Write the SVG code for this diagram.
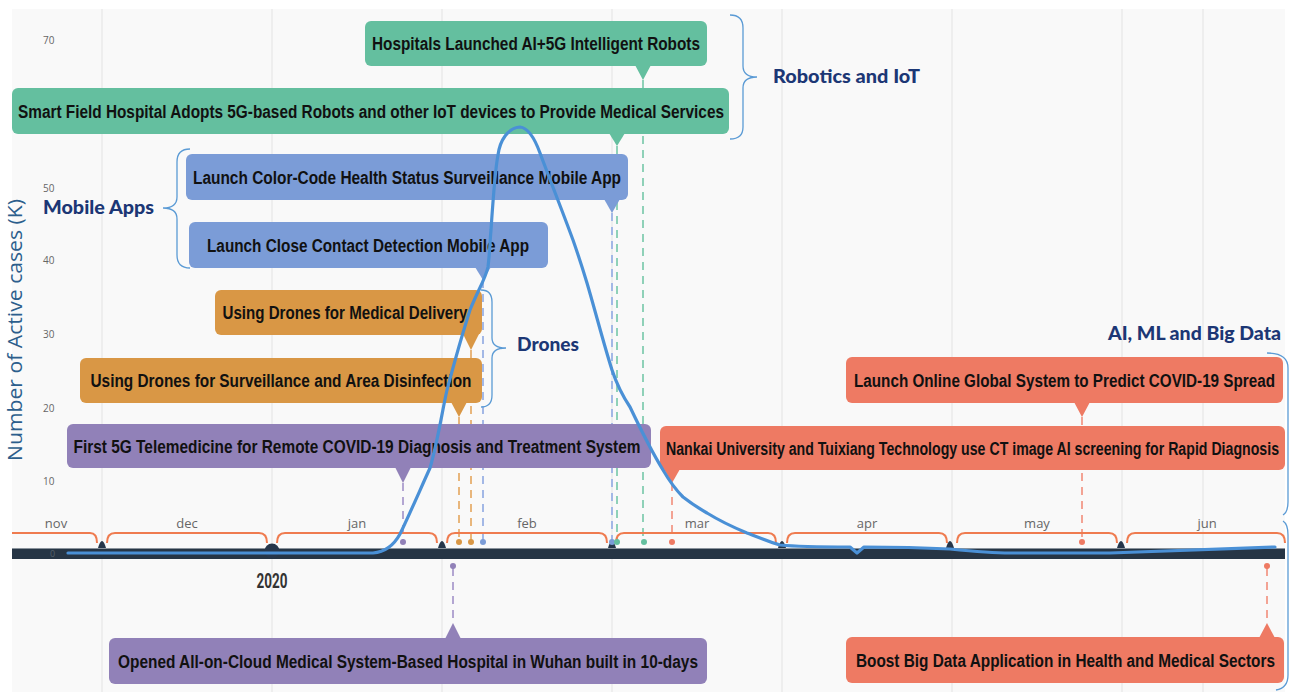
<svg xmlns="http://www.w3.org/2000/svg" width="1290" height="692" viewBox="0 0 1290 692">
<style>
.bt{font-family:"Liberation Sans",Arial,sans-serif;font-weight:bold;font-size:18px;fill:#111;text-anchor:middle}
.bs{text-anchor:start}
.be{text-anchor:end}
.cat{font-family:Lato,"Open Sans",sans-serif;font-weight:900;font-size:19px;fill:#1c3775}
.tick{font-family:"Open Sans",sans-serif;font-size:10px;fill:#666}
.mon{font-family:"Open Sans",sans-serif;font-size:13px;fill:#666;text-anchor:middle}
.grid{stroke:#e6e6e6;stroke-width:1.2}
.brk{fill:none;stroke:#ef7b4f;stroke-width:2}
.brace{fill:none;stroke:#5b9bd5;stroke-width:1.3}
.dash{stroke-width:2;stroke-dasharray:8 6;fill:none}
.g{fill:#64bf9f}.b{fill:#7b9cd7}.o{fill:#d99745}.p{fill:#9181b8}.r{fill:#ee7a63}
.mk{fill:#26364a}
</style>
<rect x="0" y="0" width="1290" height="692" fill="#ffffff"/>
<rect x="12" y="9" width="1273" height="683" fill="#f9f9f9"/>
<g id="grid">
<line class="grid" x1="102" y1="9" x2="102" y2="692"/>
<line class="grid" x1="272" y1="9" x2="272" y2="692"/>
<line class="grid" x1="442" y1="9" x2="442" y2="692"/>
<line class="grid" x1="612" y1="9" x2="612" y2="692"/>
<line class="grid" x1="782" y1="9" x2="782" y2="692"/>
<line class="grid" x1="952" y1="9" x2="952" y2="692"/>
<line class="grid" x1="1122" y1="9" x2="1122" y2="692"/>
<line class="grid" x1="1203" y1="9" x2="1203" y2="692"/>
</g>
<g id="yaxis">
<text class="tick" x="43" y="44">70</text>
<text class="tick" x="43" y="192">50</text>
<text class="tick" x="43" y="264">40</text>
<text class="tick" x="43" y="338">30</text>
<text class="tick" x="43" y="412">20</text>
<text class="tick" x="43" y="485">10</text>
<text x="22" y="330" transform="rotate(-90 22 330)" font-family="'Open Sans',sans-serif" font-size="20" fill="#2c5e8c" text-anchor="middle" textLength="262" lengthAdjust="spacingAndGlyphs">Number of Active cases (K)</text>
</g>
<g id="connectors">
<line class="dash" stroke="#8fd1b8" x1="643" y1="80" x2="643" y2="540"/>
<line class="dash" stroke="#8fd1b8" x1="617" y1="146" x2="617" y2="540"/>
<line class="dash" stroke="#a3b8e6" x1="612" y1="213" x2="612" y2="540"/>
<line class="dash" stroke="#a3b8e6" x1="483" y1="280" x2="483" y2="540"/>
<line class="dash" stroke="#e8b67c" x1="471" y1="350" x2="471" y2="540"/>
<line class="dash" stroke="#e8b67c" x1="459" y1="417" x2="459" y2="540"/>
<line class="dash" stroke="#b3a6d2" x1="403" y1="483" x2="403" y2="540"/>
<line class="dash" stroke="#f3a394" x1="672" y1="483" x2="672" y2="540"/>
<line class="dash" stroke="#f3a394" x1="1082" y1="417" x2="1082" y2="540"/>
<line class="dash" stroke="#b3a6d2" x1="453" y1="568" x2="453" y2="623"/>
<line class="dash" stroke="#f3a394" x1="1267" y1="568" x2="1267" y2="623"/>
</g>
<g id="months">
<path class="brk" d="M12,533 L90,533 Q97,533 97,543"/>
<path class="brk" d="M107,543 Q107,533 115,533 L259,533 Q267,533 267,543"/>
<path class="brk" d="M277,543 Q277,533 285,533 L429,533 Q437,533 437,543"/>
<path class="brk" d="M447,543 Q447,533 455,533 L599,533 Q607,533 607,543"/>
<path class="brk" d="M616,543 Q616,533 624,533 L768,533 Q776,533 776,543"/>
<path class="brk" d="M787,543 Q787,533 795,533 L939,533 Q947,533 947,543"/>
<path class="brk" d="M957,543 Q957,533 965,533 L1109,533 Q1117,533 1117,543"/>
<path class="brk" d="M1127,543 Q1127,533 1135,533 L1277,533 Q1285,533 1285,543"/>
<text class="mon" x="56" y="528">nov</text>
<text class="mon" x="187" y="528">dec</text>
<text class="mon" x="357" y="528">jan</text>
<text class="mon" x="527" y="528">feb</text>
<text class="mon" x="697" y="528">mar</text>
<text class="mon" x="867" y="528">apr</text>
<text class="mon" x="1037" y="528">may</text>
<text class="mon" x="1207" y="528">jun</text>
</g>
<g id="axis">
<rect x="12" y="548" width="1273" height="11" fill="#263545"/>
<line x1="12" y1="548.5" x2="1285" y2="548.5" stroke="#8a939c" stroke-width="1"/>
<text x="50" y="557" font-family="'Open Sans',sans-serif" font-size="9" fill="#55606b">0</text>
<path class="mk" d="M98,548 Q100,541 102,541 Q104,541 106,548 Z"/>
<path class="mk" d="M438,548 Q440,541 442,541 Q444,541 446,548 Z"/>
<path class="mk" d="M608,548 Q610,541 612,541 Q614,541 616,548 Z"/>
<path class="mk" d="M778,548 Q780,541 782,541 Q784,541 786,548 Z"/>
<path class="mk" d="M946,548 Q948,541 950,541 Q952,541 954,548 Z"/>
<path class="mk" d="M1117,548 Q1119,541 1121,541 Q1123,541 1125,548 Z"/>
<circle class="mk" cx="272" cy="551" r="7.5"/>
<text x="272" y="588" font-family="Roboto,'Liberation Sans',sans-serif" font-weight="bold" font-size="20" fill="#333" text-anchor="middle" textLength="31" lengthAdjust="spacingAndGlyphs">2020</text>
<circle cx="403" cy="542" r="3" fill="#9181b8"/>
<circle cx="459" cy="542" r="3" fill="#d99745"/>
<circle cx="471" cy="542" r="3" fill="#d99745"/>
<circle cx="483" cy="542" r="3" fill="#7b9cd7"/>
<circle cx="612" cy="542" r="3" fill="#7b9cd7"/>
<circle cx="617" cy="542" r="3" fill="#64bf9f"/>
<circle cx="644" cy="542" r="3" fill="#64bf9f"/>
<circle cx="672" cy="542" r="3" fill="#ee7a63"/>
<circle cx="1082" cy="542" r="3" fill="#ee7a63"/>
<circle cx="453" cy="566" r="3" fill="#9181b8"/>
<circle cx="1267" cy="566" r="3" fill="#ee7a63"/>
</g>
<g id="n1">
<rect class="g" x="365" y="21" width="342" height="45" rx="6"/>
<path class="g" d="M635,65 L651,65 L643,80 Z"/>
<text class="bt" x="536" y="50" textLength="328" lengthAdjust="spacingAndGlyphs">Hospitals Launched AI+5G Intelligent Robots</text>
</g>
<g id="n2">
<rect class="g" x="12" y="88" width="717" height="46" rx="6"/>
<path class="g" d="M609,133 L625,133 L617,146 Z"/>
<text class="bt bs" x="18" y="117.5" textLength="706" lengthAdjust="spacingAndGlyphs">Smart Field Hospital Adopts 5G-based Robots and other IoT devices to Provide Medical Services</text>
</g>
<g id="n3">
<rect class="b" x="186" y="154" width="442" height="46" rx="6"/>
<path class="b" d="M604,199 L620,199 L612,213 Z"/>
<text class="bt" x="407" y="183.5" textLength="428" lengthAdjust="spacingAndGlyphs">Launch Color-Code Health Status Surveillance Mobile App</text>
</g>
<g id="n4">
<rect class="b" x="189" y="222" width="359" height="46" rx="6"/>
<path class="b" d="M475,267 L491,267 L483,280 Z"/>
<text class="bt" x="368" y="251.5" textLength="322" lengthAdjust="spacingAndGlyphs">Launch Close Contact Detection Mobile App</text>
</g>
<g id="n5">
<rect class="o" x="215" y="290" width="267" height="45" rx="6"/>
<path class="o" d="M463,334 L479,334 L471,350 Z"/>
<text class="bt" x="345" y="319" textLength="245" lengthAdjust="spacingAndGlyphs">Using Drones for Medical Delivery</text>
</g>
<g id="n6">
<rect class="o" x="80" y="358" width="402" height="45" rx="6"/>
<path class="o" d="M451,402 L467,402 L459,417 Z"/>
<text class="bt" x="281" y="387" textLength="381" lengthAdjust="spacingAndGlyphs">Using Drones for Surveillance and Area Disinfection</text>
</g>
<g id="n7">
<rect class="p" x="67" y="424" width="584" height="44" rx="6"/>
<path class="p" d="M395,467 L411,467 L403,483 Z"/>
<text class="bt" x="357" y="452.5" textLength="567" lengthAdjust="spacingAndGlyphs">First 5G Telemedicine for Remote COVID-19 Diagnosis and Treatment System</text>
</g>
<g id="n8">
<rect class="p" x="109" y="638" width="598" height="46" rx="6"/>
<path class="p" d="M445,639 L461,639 L453,623 Z"/>
<text class="bt" x="408" y="667.5" textLength="580" lengthAdjust="spacingAndGlyphs">Opened All-on-Cloud Medical System-Based Hospital in Wuhan built in 10-days</text>
</g>
<g id="n9">
<rect class="r" x="846" y="357" width="437" height="46" rx="6"/>
<path class="r" d="M1074,402 L1090,402 L1082,417 Z"/>
<text class="bt be" x="1275" y="386.5" textLength="421" lengthAdjust="spacingAndGlyphs">Launch Online Global System to Predict COVID-19 Spread</text>
</g>
<g id="n10">
<rect class="r" x="660" y="426" width="625" height="44" rx="6"/>
<path class="r" d="M664,469 L680,469 L672,483 Z"/>
<text class="bt be" x="1279" y="454.5" textLength="613" lengthAdjust="spacingAndGlyphs">Nankai University and Tuixiang Technology use CT image AI screening for Rapid Diagnosis</text>
</g>
<g id="n11">
<rect class="r" x="846" y="637" width="438" height="46" rx="6"/>
<path class="r" d="M1259,638 L1275,638 L1267,623 Z"/>
<text class="bt be" x="1275" y="666.5" textLength="419" lengthAdjust="spacingAndGlyphs">Boost Big Data Application in Health and Medical Sectors</text>
</g>
<g id="curve">
<path d="M68,553 L373,553 C385,552 394,545 400,534 C407,520 420,490 430,468 C438,440 442,412 447,390 C455,360 462,335 470,310 C478,290 485,280 488,267 C490,250 490,240 491,230 C493,200 495,170 498,155 C500,140 508,128 520,127 C530,128 536,142 540,153 C550,180 562,210 573,240 C580,260 584,273 587,283 C595,310 604,345 612,370 C618,388 624,398 630,407 C640,428 652,452 663,470 C670,482 676,490 683,497 C692,504 700,509 707,513 C720,521 735,528 747,533 C760,538 770,542 780,545 C800,547 830,547 850,547 L857,553 L864,547 C890,547 930,548 950,549 C970,551 990,553 1010,553 L1110,553 C1150,552 1200,550 1275,547" fill="none" stroke="#4a90d6" stroke-width="3.2" stroke-linejoin="round" stroke-linecap="round"/>
</g>
<g id="cat-robotics">
<path class="brace" d="M730,15 Q743,15 743,28 L743,66 Q743,77 757,77 Q743,77 743,88 L743,127 Q743,139 730,139"/>
<text class="cat" x="773" y="83" textLength="147" lengthAdjust="spacingAndGlyphs">Robotics and IoT</text>
</g>
<g id="cat-mobile">
<path class="brace" d="M190,149 Q177,149 177,162 L177,197 Q177,208 163,208 Q177,208 177,219 L177,255 Q177,268 190,268"/>
<text class="cat" x="43" y="214" textLength="111" lengthAdjust="spacingAndGlyphs">Mobile Apps</text>
</g>
<g id="cat-drones">
<path class="brace" d="M481,290 Q492,290 492,302 L492,338 Q492,348 506,348 Q492,348 492,358 L492,395 Q492,407 481,407"/>
<text class="cat" x="517" y="351" textLength="62" lengthAdjust="spacingAndGlyphs">Drones</text>
</g>
<g id="cat-ai">
<path class="brace" d="M1267,353 Q1288,353 1288,368 L1288,502 Q1288,512 1283,515"/>
<path class="brace" d="M1283,521 Q1288,524 1288,535 L1288,675 Q1288,688 1276,690"/>
<text class="cat" x="1108" y="340" textLength="173" lengthAdjust="spacingAndGlyphs">AI, ML and Big Data</text>
</g>
</svg>
